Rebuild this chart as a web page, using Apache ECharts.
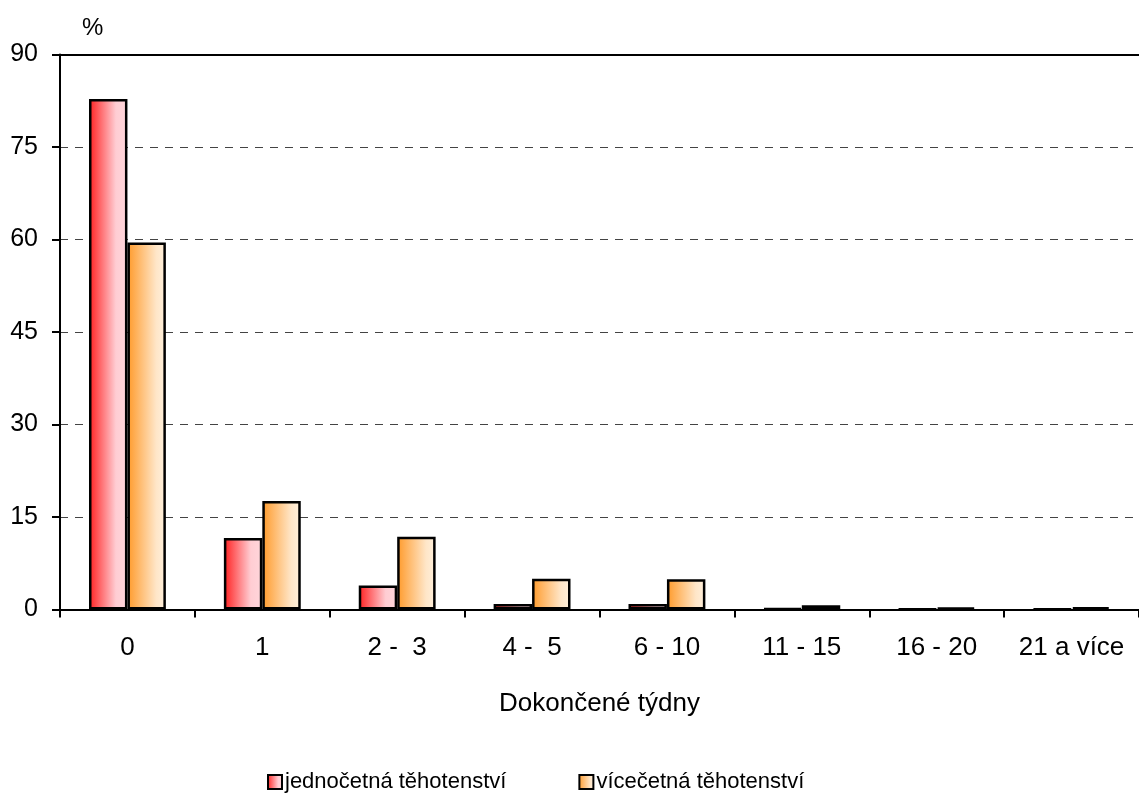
<!DOCTYPE html>
<html>
<head>
<meta charset="utf-8">
<script src="https://cdn.jsdelivr.net/npm/echarts@6/dist/echarts.min.js"></script>
<style>
  html, body { margin: 0; padding: 0; background: #fff; }
  #chart { width: 1139px; height: 793px; }
</style>
</head>
<body>
<div id="chart"></div>
<script>
// Dokončené týdny
const categories = ['0', '1', '2 -  3', '4 -  5', '6 - 10', '11 - 15', '16 - 20', '21 a více']
const seriesNames = ['jednočetná těhotenství', 'vícečetná těhotenství']
const singleValues = [82.8, 11.6, 3.9, 0.9, 0.9, 0.2, 0.1, 0.1]
const multipleValues = [59.5, 17.6, 11.8, 5.0, 4.9, 0.7, 0.3, 0.4]
const yTicks = { min: 0, max: 90, interval: 15 }

const font = 'Liberation Sans, Arial, sans-serif'

const redFill = new echarts.graphic.LinearGradient(0, 0, 1, 0, [
  { offset: 0, color: '#ff1f1f' },
  { offset: 0.7, color: '#ffcdd3' },
  { offset: 1, color: '#ffd6db' }
])
const orangeFill = new echarts.graphic.LinearGradient(0, 0, 1, 0, [
  { offset: 0, color: '#ff9a2a' },
  { offset: 0.75, color: '#ffe6c8' },
  { offset: 1, color: '#fff0dc' }
])

const chart = echarts.init(document.getElementById('chart'))
chart.setOption({
  animation: false,
  title: {
    text: '%',
    left: 77,
    top: 11,
    textStyle: { fontFamily: font, fontSize: 24, fontWeight: 'normal', color: '#000' }
  },
  legend: {
    left: 262,
    top: 766,
    icon: 'rect',
    itemWidth: 14,
    itemHeight: 14,
    itemGap: 72,
    textStyle: { fontFamily: font, fontSize: 22, color: '#000', padding: [0, 0, 0, -2] },
    data: seriesNames
  },
  grid: { left: 60, top: 54.5, width: 1087, bottom: 183.5 },
  xAxis: [
    {
      type: 'category',
      data: categories,
      name: 'Dokončené týdny',
      nameLocation: 'middle',
      nameGap: 81,
      nameTextStyle: { fontFamily: font, fontSize: 26, color: '#000' },
      axisLine: { lineStyle: { color: '#000', width: 2 } },
      axisTick: { show: true, length: 8, interval: 0, lineStyle: { color: '#000', width: 2 } },
      axisLabel: { fontFamily: font, fontSize: 26, color: '#000', margin: 25, interval: 0 }
    },
    {
      type: 'category',
      position: 'top',
      data: categories,
      axisLine: { lineStyle: { color: '#000', width: 2 } },
      axisTick: { show: false },
      axisLabel: { show: false }
    }
  ],
  yAxis: {
    type: 'value',
    min: yTicks.min,
    max: yTicks.max,
    interval: yTicks.interval,
    axisLine: { show: true, lineStyle: { color: '#000', width: 2 } },
    axisTick: { show: true, length: 8, lineStyle: { color: '#000', width: 2 } },
    axisLabel: { fontFamily: font, fontSize: 25, color: '#000', margin: 22 },
    splitLine: { show: true, lineStyle: { color: '#444', width: 1.2, type: [8, 7] } }
  },
  series: [
    {
      name: seriesNames[0],
      type: 'bar',
      data: singleValues,
      barGap: '0%',
      barCategoryGap: '43%',
      itemStyle: { color: redFill, borderColor: '#000', borderWidth: 2.5 }
    },
    {
      name: seriesNames[1],
      type: 'bar',
      data: multipleValues,
      barGap: '0%',
      barCategoryGap: '43%',
      itemStyle: { color: orangeFill, borderColor: '#000', borderWidth: 2.5 }
    }
  ]
})
</script>
</body>
</html>
